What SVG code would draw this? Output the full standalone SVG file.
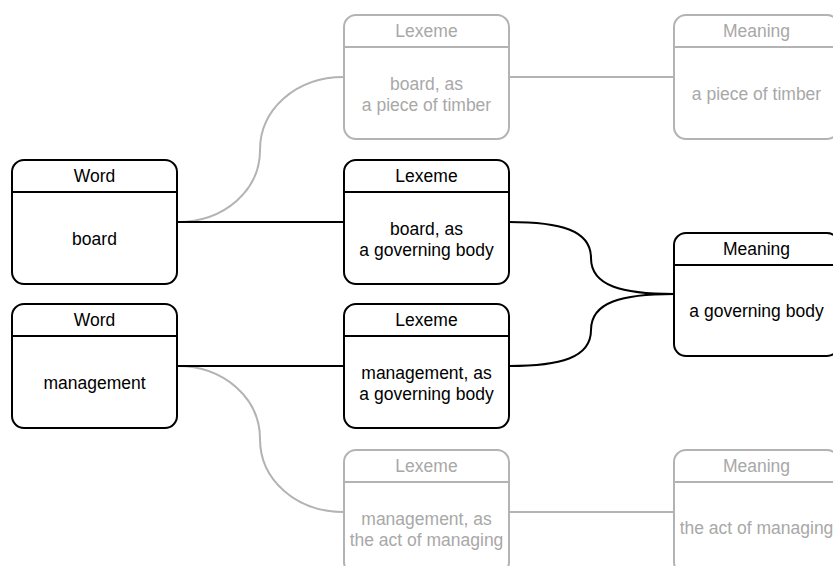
<svg xmlns="http://www.w3.org/2000/svg" width="833" height="566" viewBox="0 0 833 566">
<style>
.box{fill:#fff;stroke-width:2}
.dk .box,.dk line{stroke:#000}
.lt .box,.lt line{stroke:#b3b3b3}
line{stroke-width:2}
text{font-family:"Liberation Sans",Arial,Helvetica,sans-serif;font-size:17.5px;text-anchor:middle}
.dk text{fill:#000}
.lt text{fill:#a8a8a8}
.c{fill:none;stroke-width:2}
.cd{stroke:#000}
.cl{stroke:#b3b3b3}
</style>
<rect width="833" height="566" fill="#fff"/>
<g id="connectors">
<path class="c cl" d="M177,222 C225,222 260,190 260,150 C260,110 295,77 344,77"/>
<path class="c cl" d="M509,77 L674,77"/>
<path class="c cl" d="M177,366 C225,366 260,399 260,439 C260,479 295,512 344,512"/>
<path class="c cl" d="M509,512 L674,512"/>
<path class="c cd" d="M177,222 L344,222"/>
<path class="c cd" d="M177,366 L344,366"/>
<path class="c cd" d="M509,222 C560,222 591,230 591,258 C591,286 622,294 674,294"/>
<path class="c cd" d="M509,366 C560,366 591,358 591,330 C591,302 622,294 674,294"/>
</g>
<g id="word-board" class="dk">
<rect class="box" x="12" y="160" width="165" height="124" rx="12"/>
<line x1="12" y1="192" x2="177" y2="192"/>
<text x="94.5" y="182">Word</text>
<text x="94.5" y="245">board</text>
</g>
<g id="word-management" class="dk">
<rect class="box" x="12" y="304" width="165" height="124" rx="12"/>
<line x1="12" y1="336" x2="177" y2="336"/>
<text x="94.5" y="326">Word</text>
<text x="94.5" y="389">management</text>
</g>
<g id="lexeme-timber" class="lt">
<rect class="box" x="344" y="15" width="165" height="124" rx="12"/>
<line x1="344" y1="47" x2="509" y2="47"/>
<text x="426.5" y="37">Lexeme</text>
<text x="426.5" y="90">board, as</text>
<text x="426.5" y="111">a piece of timber</text>
</g>
<g id="lexeme-board-gov" class="dk">
<rect class="box" x="344" y="160" width="165" height="124" rx="12"/>
<line x1="344" y1="192" x2="509" y2="192"/>
<text x="426.5" y="182">Lexeme</text>
<text x="426.5" y="235">board, as</text>
<text x="426.5" y="256">a governing body</text>
</g>
<g id="lexeme-management-gov" class="dk">
<rect class="box" x="344" y="304" width="165" height="124" rx="12"/>
<line x1="344" y1="336" x2="509" y2="336"/>
<text x="426.5" y="326">Lexeme</text>
<text x="426.5" y="379">management, as</text>
<text x="426.5" y="400">a governing body</text>
</g>
<g id="lexeme-managing" class="lt">
<rect class="box" x="344" y="450" width="165" height="124" rx="12"/>
<line x1="344" y1="482" x2="509" y2="482"/>
<text x="426.5" y="472">Lexeme</text>
<text x="426.5" y="525">management, as</text>
<text x="426.5" y="546">the act of managing</text>
</g>
<g id="meaning-timber" class="lt">
<rect class="box" x="674" y="15" width="165" height="124" rx="12"/>
<line x1="674" y1="47" x2="839" y2="47"/>
<text x="756.5" y="37">Meaning</text>
<text x="756.5" y="100">a piece of timber</text>
</g>
<g id="meaning-gov" class="dk">
<rect class="box" x="674" y="233" width="165" height="123" rx="12"/>
<line x1="674" y1="265" x2="839" y2="265"/>
<text x="756.5" y="255">Meaning</text>
<text x="756.5" y="317">a governing body</text>
</g>
<g id="meaning-managing" class="lt">
<rect class="box" x="674" y="450" width="165" height="124" rx="12"/>
<line x1="674" y1="482" x2="839" y2="482"/>
<text x="756.5" y="472">Meaning</text>
<text x="756.5" y="534">the act of managing</text>
</g>
</svg>
